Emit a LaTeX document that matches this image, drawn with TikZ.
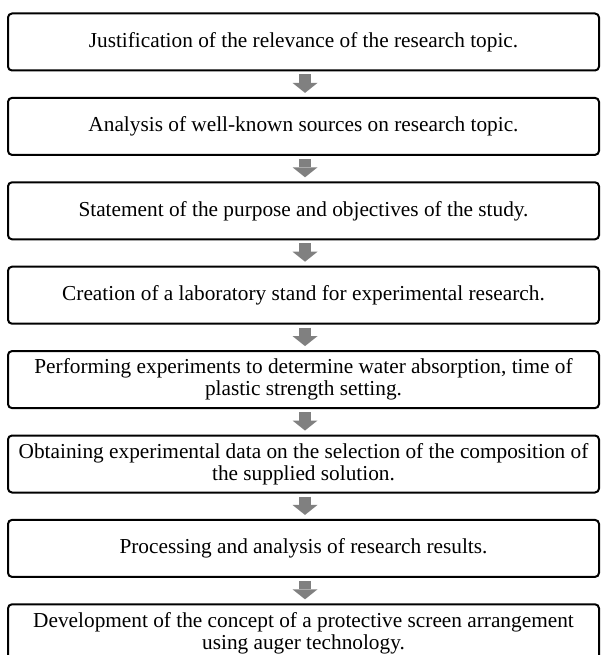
\documentclass[tikz,border=0pt]{standalone}
\usepackage{fontspec}
\setmainfont{Liberation Serif}
\usetikzlibrary{arrows.meta}
\begin{document}
\begin{tikzpicture}[x=1pt,y=-1pt,
  stepbox/.style={draw=black, line width=2pt, rounded corners=4pt, minimum width=591pt, minimum height=57pt, inner sep=0pt, align=center, font=\fontsize{21.3}{22}\selectfont, anchor=north},
  flowarrow/.style={draw=arrowgray, line width=12.5pt, -{Triangle[width=25pt,length=10pt,line width=0pt]}, shorten <=3pt, shorten >=4pt}]
\definecolor{arrowgray}{HTML}{808080}
\useasboundingbox (0,0) rectangle (600,655);
\clip (0,0) rectangle (600,655);
\node[stepbox] (b1) at (303.5,12.5) {Justification of the relevance of the research topic.};
\node[stepbox] (b2) at (303.5,96.9) {Analysis of well-known sources on research topic.};
\node[stepbox] (b3) at (303.5,181.3) {Statement of the purpose and objectives of the study.};
\node[stepbox] (b4) at (303.5,265.7) {Creation of a laboratory stand for experimental research.};
\node[stepbox] (b5) at (303.5,350.1) {Performing experiments to determine water absorption, time of\\plastic strength setting.};
\node[stepbox] (b6) at (303.5,434.5) {Obtaining experimental data on the selection of the composition of\\the supplied solution.};
\node[stepbox] (b7) at (303.5,518.9) {Processing and analysis of research results.};
\node[stepbox] (b8) at (303.5,603.3) {Development of the concept of a protective screen arrangement\\using auger technology.};
\foreach \a/\b in {b1/b2,b2/b3,b3/b4,b4/b5,b5/b6,b6/b7,b7/b8}
  \draw[flowarrow] ([xshift=1.5pt]\a.south) -- ([xshift=1.5pt]\b.north);
\end{tikzpicture}
\end{document}
